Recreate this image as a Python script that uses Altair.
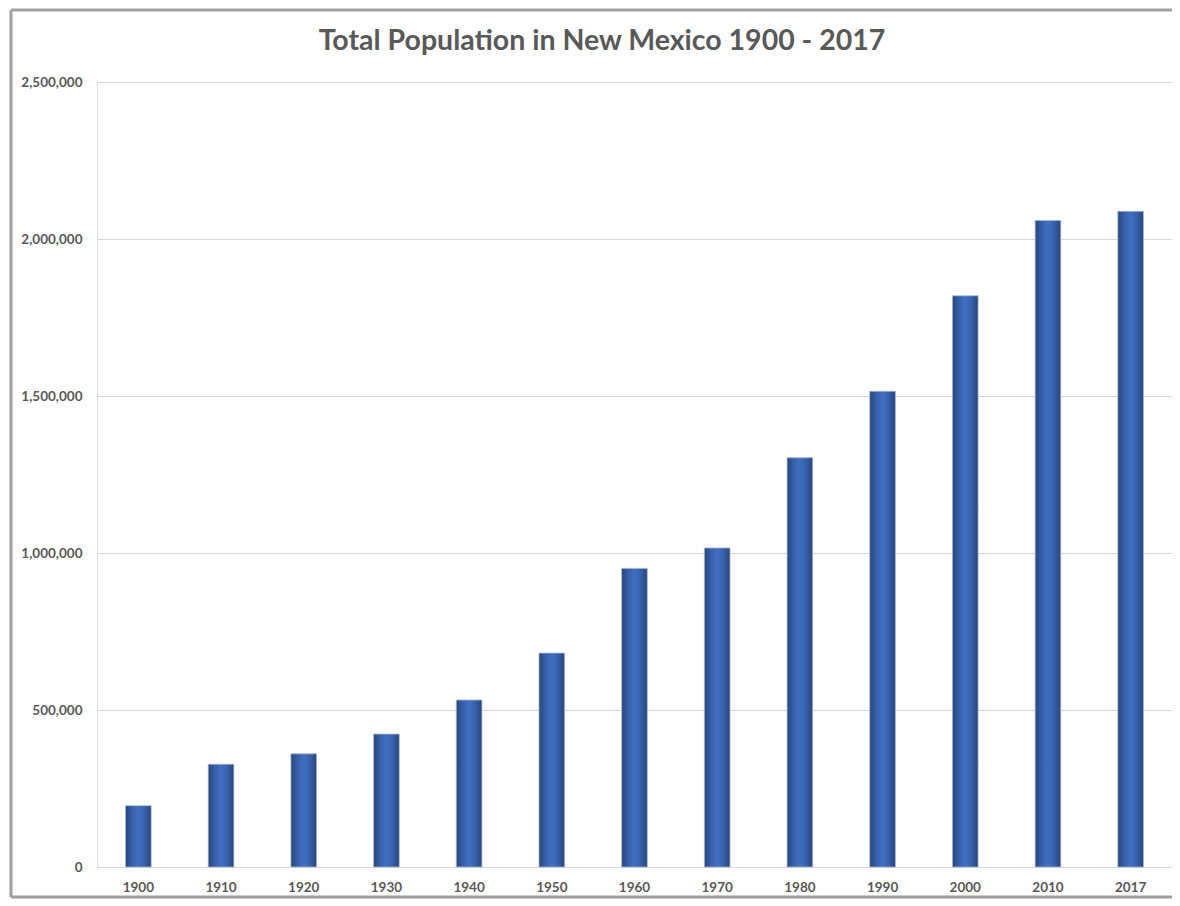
import altair as alt
import pandas as pd

years = ["1900", "1910", "1920", "1930", "1940", "1950", "1960", "1970",
         "1980", "1990", "2000", "2010", "2017"]
population = [195310, 327301, 360350, 423317, 531818, 681187, 951023, 1016000,
              1303303, 1515069, 1819046, 2059179, 2088070]
y_ticks = [0, 500000, 1000000, 1500000, 2000000, 2500000]
title_text = "Total Population in New Mexico 1900 - 2017"

df = pd.DataFrame({"year": years, "pop": population})

W, H = 1075, 785
FONT = "Lato"
TXT = "#595959"

grad = alt.Gradient(
    gradient="linear",
    stops=[
        alt.GradientStop(offset=0, color="#27457a"),
        alt.GradientStop(offset=0.28, color="#3862ad"),
        alt.GradientStop(offset=0.5, color="#406ec0"),
        alt.GradientStop(offset=0.72, color="#3862ad"),
        alt.GradientStop(offset=1, color="#27457a"),
    ],
    x1=0, x2=1, y1=0, y2=0,
)

one = pd.DataFrame({"t": [title_text]})
L, T, B, R = -86, -72, 815, W + 10


def edge(**enc):
    return alt.Chart(one).mark_rule(
        stroke="#a0a0a0", strokeWidth=3, clip=False
    ).encode(**enc)


frame_left = edge(x=alt.value(L), y=alt.value(T), y2=alt.value(B))
frame_top = edge(x=alt.value(L), x2=alt.value(R), y=alt.value(T))
frame_bottom = edge(x=alt.value(L), x2=alt.value(R), y=alt.value(B))

title = alt.Chart(one).mark_text(
    font=FONT, fontSize=28.5, fontWeight="bold", color=TXT,
    align="center", baseline="middle", clip=False
).encode(
    text="t:N", x=alt.value(505), y=alt.value(-41),
)

bars = alt.Chart(df).mark_bar(
    fill=grad, stroke="#a9b6cc", strokeWidth=0.8
).encode(
    x=alt.X("year:N", sort=years,
            scale=alt.Scale(paddingInner=0.69, paddingOuter=0.345),
            axis=alt.Axis(title=None, labelAngle=0, ticks=False, domain=True,
                          domainColor="#d9d9d9", labelPadding=13,
                          labelFont=FONT, labelFontSize=13.5, labelFontWeight="bold",
                          labelColor=TXT)),
    y=alt.Y("pop:Q", scale=alt.Scale(domain=[0, 2500000], nice=False),
            axis=alt.Axis(title=None, values=y_ticks, format=",.0f", ticks=False,
                          domain=False, grid=True, gridColor="#d9d9d9",
                          labelPadding=15, labelFont=FONT, labelFontSize=13.5,
                          labelFontWeight="bold", labelColor=TXT)),
)

chart = alt.layer(frame_left, frame_top, frame_bottom, bars, title).properties(
    width=W, height=H,
    autosize=alt.AutoSizeParams(type="none"),
    padding={"left": 89, "top": 74, "right": 0, "bottom": 35},
).configure_view(stroke=None).configure(background="white")

chart.save("out.html", embed_options={"renderer": "svg", "actions": False})
